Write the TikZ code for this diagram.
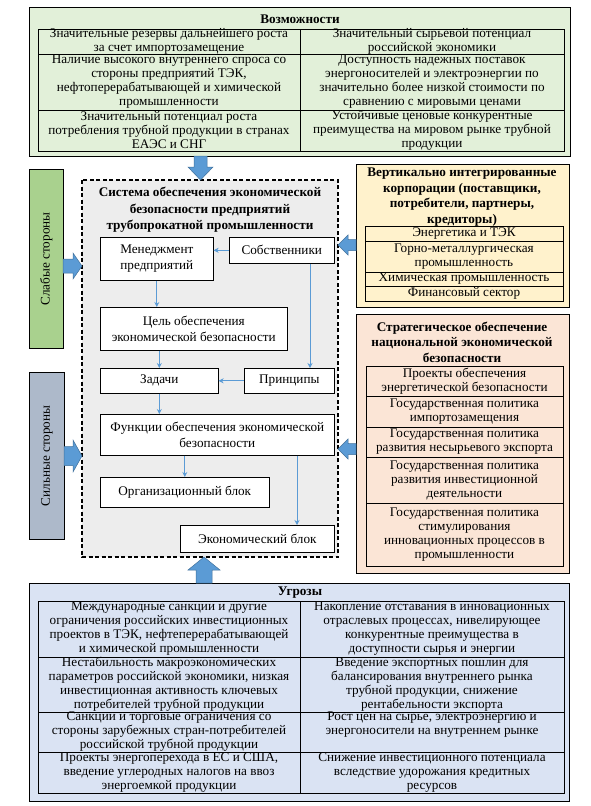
\documentclass[tikz,border=0pt]{standalone}
\usepackage{fontspec}
\setmainfont{Liberation Serif}
\usetikzlibrary{arrows.meta}
\definecolor{oppfill}{HTML}{E2F0D9}
\definecolor{weakfill}{HTML}{A9D18E}
\definecolor{strongfill}{HTML}{ADB9CA}
\definecolor{vifill}{HTML}{FFF2CC}
\definecolor{stratfill}{HTML}{FBE5D6}
\definecolor{threatfill}{HTML}{DAE3F3}
\definecolor{sysfill}{HTML}{EDEDED}
\definecolor{arrowfill}{HTML}{5B9BD5}
\definecolor{arrowedge}{HTML}{41719C}
\newcommand{\tfont}{\fontsize{13.2}{14}\selectfont}
\newcommand{\bfont}{\fontsize{13.2}{16}\selectfont}
\newcommand{\hfont}{\fontsize{13.2}{15.5}\selectfont}
% cell: name, x1, y1, x2, y2, text
\newcommand{\cellbox}[6]{%
  \draw[cellline] (#2,#3) rectangle (#4,#5);
  \node[celltext] (#1) at ({(#2+#4)/2},{(#3+#5)/2}) {#6};}
\begin{document}
\begin{tikzpicture}[x=1pt,y=-1pt,
  outer/.style={draw=black, line width=0.8pt},
  cellline/.style={draw=black, line width=0.6pt},
  celltext/.style={align=center, inner sep=0pt, font=\tfont},
  ibox/.style={draw=black, line width=0.6pt, fill=white, anchor=north west, align=center, inner sep=0pt, font=\bfont},
  ttl/.style={align=center, inner sep=0pt, font=\hfont\bfseries},
  flow/.style={draw=arrowfill, line width=0.8pt, -{Stealth[length=5pt,width=5pt]}},
  barrow/.style={fill=arrowfill, draw=arrowedge, line width=0.5pt},
  side/.style={draw=black, line width=0.8pt, anchor=north west, inner sep=0pt}
]
\useasboundingbox (0,0) rectangle (590,806);

% ---------- Opportunities ----------
\draw[outer, fill=oppfill] (29,7) rectangle (570,156);
\node[ttl] (oppT) at (300,19) {Возможности};
\cellbox{o1}{38}{29}{300}{54}{Значительные резервы дальнейшего роста\\за счет импортозамещение}
\cellbox{o2}{300}{29}{564}{54}{Значительный сырьевой потенциал\\российской экономики}
\cellbox{o3}{38}{54}{300}{110}{Наличие высокого внутреннего спроса со\\стороны предприятий ТЭК,\\нефтоперерабатывающей и химической\\промышленности}
\cellbox{o4}{300}{54}{564}{110}{Доступность надежных поставок\\энергоносителей и электроэнергии по\\значительно более низкой стоимости по\\сравнению с мировыми ценами}
\cellbox{o5}{38}{110}{300}{151}{Значительный потенциал роста\\потребления трубной продукции в странах\\ЕАЭС и СНГ}
\cellbox{o6}{300}{110}{564}{151}{Устойчивые ценовые конкурентные\\преимущества на мировом рынке трубной\\продукции}

% ---------- Side bars ----------
\node[side, fill=weakfill, minimum width=34pt, minimum height=179pt] (weak) at (29,169) {};
\node[rotate=90, font=\bfont] (weakT) at (weak.center) {Слабые стороны};
\node[side, fill=strongfill, minimum width=35pt, minimum height=167pt] (strong) at (29,372) {};
\node[rotate=90, font=\bfont] (strongT) at (strong.center) {Сильные стороны};

% ---------- System box ----------
\draw[line width=1.3pt, dashed, dash pattern=on 4pt off 2.5pt, fill=sysfill] (82,180) rectangle (338,557);
\node[ttl, font=\fontsize{13.2}{16.5}\selectfont\bfseries] (sysT) at (210,210) {Система обеспечения экономической\\безопасности предприятий\\трубопрокатной промышленности};

\node[ibox, minimum width=113pt, minimum height=43pt] (mgmt) at (100,237) {Менеджмент\\предприятий};
\node[ibox, minimum width=105pt, minimum height=26pt] (owners) at (229,237) {Собственники};
\node[ibox, minimum width=187pt, minimum height=43pt] (goal) at (100,307) {Цель обеспечения\\экономической безопасности};
\node[ibox, minimum width=118pt, minimum height=25pt] (tasks) at (100,368) {Задачи};
\node[ibox, minimum width=90pt, minimum height=25pt] (princ) at (244,368) {Принципы};
\node[ibox, minimum width=234pt, minimum height=41pt] (func) at (100,414) {Функции обеспечения экономической\\безопасности};
\node[ibox, minimum width=169pt, minimum height=30pt] (org) at (100,477) {Организационный блок};
\node[ibox, minimum width=154pt, minimum height=27pt] (econ) at (180,525) {Экономический блок};

\coordinate (xa) at (310,0);
\coordinate (xb) at (297,0);
\draw[flow] (owners.west) -- (owners.west -| mgmt.east);
\draw[flow] (mgmt.south) -- (mgmt.south |- goal.north);
\draw[flow] (owners.south -| xa) -- (princ.north -| xa);
\draw[flow] (tasks.north |- goal.south) -- (tasks.north);
\draw[flow] (princ.west) -- (princ.west -| tasks.east);
\draw[flow] (tasks.south) -- (tasks.south |- func.north);
\draw[flow] (org.north |- func.south) -- (org.north);
\draw[flow] (func.south -| xb) -- (econ.north -| xb);

% ---------- Vertically integrated ----------
\draw[outer, fill=vifill] (356,164) rectangle (569,307);
\node[ttl] (viT) at (462,197) {Вертикально интегрированные\\корпорации (поставщики,\\потребители, партнеры,\\кредиторы)};
\cellbox{v1}{365}{226}{563}{241}{Энергетика и ТЭК}
\cellbox{v2}{365}{241}{563}{272}{Горно-металлургическая\\промышленность}
\cellbox{v3}{365}{272}{563}{286}{Химическая промышленность}
\cellbox{v4}{365}{286}{563}{301}{Финансовый сектор}

% ---------- Strategic ----------
\draw[outer, fill=stratfill] (356,314) rectangle (569,573);
\node[ttl] (stT) at (462,342) {Стратегическое обеспечение\\национальной экономической\\безопасности};
\cellbox{s1}{366}{366}{563}{396}{Проекты обеспечения\\энергетической безопасности}
\cellbox{s2}{366}{396}{563}{427}{Государственная политика\\импортозамещения}
\cellbox{s3}{366}{427}{563}{457}{Государственная политика\\развития несырьевого экспорта}
\cellbox{s4}{366}{457}{563}{503}{Государственная политика\\развития инвестиционной\\деятельности}
\cellbox{s5}{366}{503}{563}{566}{Государственная политика\\стимулирования\\инновационных процессов в\\промышленности}

% ---------- Threats ----------
\draw[outer, fill=threatfill] (29,583) rectangle (569,801);
\node[ttl] (thT) at (300,593) {Угрозы};
\cellbox{t1}{38}{601}{300}{657}{Международные санкции и другие\\ограничения российских инвестиционных\\проектов в  ТЭК, нефтеперерабатывающей\\и химической промышленности}
\cellbox{t2}{300}{601}{564}{657}{Накопление отставания в инновационных\\отраслевых процессах, нивелирующее\\конкурентные преимущества в\\доступности сырья и энергии}
\cellbox{t3}{38}{657}{300}{712}{Нестабильность макроэкономических\\параметров российской экономики, низкая\\инвестиционная активность ключевых\\потребителей трубной продукции}
\cellbox{t4}{300}{657}{564}{712}{Введение экспортных пошлин для\\балансирования внутреннего рынка\\трубной продукции, снижение\\рентабельности экспорта}
\cellbox{t5}{38}{712}{300}{752}{Санкции и  торговые ограничения со\\стороны зарубежных стран-потребителей\\российской трубной продукции}
\cellbox{t6}{300}{712}{564}{752}{Рост цен на сырье, электроэнергию и\\энергоносители на внутреннем рынке\\\strut}
\cellbox{t7}{38}{752}{300}{793}{Проекты энергоперехода в ЕС и США,\\введение углеродных налогов на ввоз\\энергоемкой продукции}
\cellbox{t8}{300}{752}{564}{793}{Снижение инвестиционного потенциала\\вследствие удорожания кредитных\\ресурсов}

% ---------- Block arrows ----------
\draw[barrow] (194,156) -- (207,156) -- (207,167) -- (213,167) -- (200.5,180) -- (188,167) -- (194,167) -- cycle;
\draw[barrow] (196,583) -- (212,583) -- (212,570) -- (220,570) -- (204,557) -- (188,570) -- (196,570) -- cycle;
\draw[barrow] (63,259) -- (73,259) -- (73,253) -- (82,266) -- (73,279) -- (73,273) -- (63,273) -- cycle;
\draw[barrow] (64,446.5) -- (73,446.5) -- (73,440) -- (82,456) -- (73,472) -- (73,465.5) -- (64,465.5) -- cycle;
\draw[barrow] (356,239.5) -- (348,239.5) -- (348,235) -- (338,245) -- (348,255) -- (348,250.5) -- (356,250.5) -- cycle;
\draw[barrow] (356,443.5) -- (348,443.5) -- (348,439) -- (338,449) -- (348,459) -- (348,454.5) -- (356,454.5) -- cycle;
\end{tikzpicture}
\end{document}
